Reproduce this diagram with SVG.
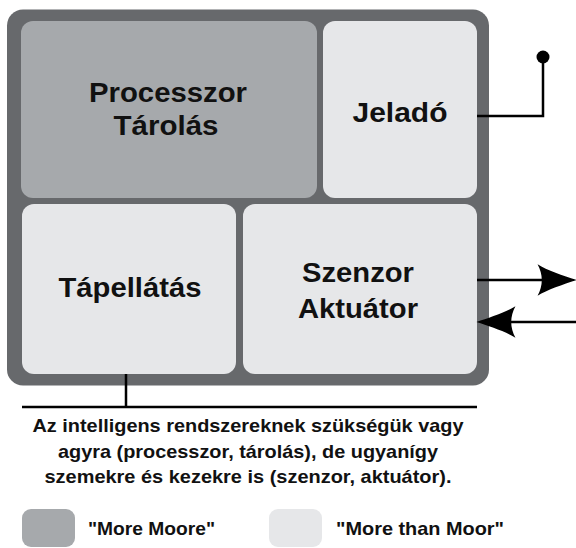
<svg xmlns="http://www.w3.org/2000/svg" width="576" height="548" viewBox="0 0 576 548">
  <style>
    .frame { fill: #67696c; }
    .dark { fill: #a6a9ac; }
    .light { fill: #e6e7e9; }
    .lbl { font-family: "Liberation Sans", Arial, sans-serif; font-weight: bold; font-size: 28.5px; fill: #111; text-anchor: middle; }
    .cap { font-family: "Liberation Sans", Arial, sans-serif; font-weight: bold; font-size: 18.5px; fill: #111; text-anchor: middle; }
    .leg { font-family: "Liberation Sans", Arial, sans-serif; font-weight: bold; font-size: 18.5px; fill: #111; }
    .wire { fill: none; stroke: #000; stroke-width: 2.5; }
  </style>
  <defs>
    <marker id="head" markerUnits="userSpaceOnUse" markerWidth="40" markerHeight="32" viewBox="0 0 38 30" refX="28" refY="15" orient="auto">
      <path d="M38,15 C26,11 10,6 1,0 Q9,15 1,30 C10,24 26,19 38,15 Z" fill="#000"/>
    </marker>
  </defs>
  <rect id="frame" class="frame" x="7" y="9.5" width="482" height="376" rx="16"/>
  <g id="processzor">
    <rect class="dark" x="21" y="21" width="296" height="177" rx="12"/>
    <text class="lbl" x="168" y="102" textLength="158" lengthAdjust="spacingAndGlyphs">Processzor</text>
    <text class="lbl" x="166" y="135" textLength="105" lengthAdjust="spacingAndGlyphs">Tárolás</text>
  </g>
  <g id="jelado">
    <rect class="light" x="323" y="21" width="154" height="177" rx="12"/>
    <text class="lbl" x="400" y="122" textLength="95" lengthAdjust="spacingAndGlyphs">Jeladó</text>
  </g>
  <g id="tapellatas">
    <rect class="light" x="22" y="204" width="214" height="170" rx="12"/>
    <text class="lbl" x="130" y="297" textLength="143" lengthAdjust="spacingAndGlyphs">Tápellátás</text>
  </g>
  <g id="szenzor">
    <rect class="light" x="243" y="204" width="234" height="170" rx="12"/>
    <text class="lbl" x="358" y="282" textLength="112" lengthAdjust="spacingAndGlyphs">Szenzor</text>
    <text class="lbl" x="358" y="318" textLength="120" lengthAdjust="spacingAndGlyphs">Aktuátor</text>
  </g>
  <g id="connectors">
    <path class="wire" d="M477,116 H543 V57"/>
    <circle cx="543" cy="57" r="6.5" fill="#000"/>
    <path class="wire" d="M477,280 H566" marker-end="url(#head)"/>
    <path class="wire" d="M576,322 H487" marker-end="url(#head)"/>
    <path class="wire" stroke-width="3" d="M126,374 V407 M22,407 H477"/>
  </g>
  <g id="caption">
    <text class="cap" x="248" y="432" textLength="431" lengthAdjust="spacingAndGlyphs">Az intelligens rendszereknek szükségük vagy</text>
    <text class="cap" x="248" y="457.5" textLength="380" lengthAdjust="spacingAndGlyphs">agyra (processzor, tárolás), de ugyanígy</text>
    <text class="cap" x="248" y="483" textLength="407" lengthAdjust="spacingAndGlyphs">szemekre és kezekre is (szenzor, aktuátor).</text>
  </g>
  <g id="legend-more-moore">
    <rect class="dark" x="22" y="509" width="53" height="38" rx="9"/>
    <text class="leg" x="88" y="535" textLength="127" lengthAdjust="spacingAndGlyphs">"More Moore"</text>
  </g>
  <g id="legend-more-than-moore">
    <rect class="light" x="269" y="509" width="53" height="38" rx="9"/>
    <text class="leg" x="336" y="535" textLength="168" lengthAdjust="spacingAndGlyphs">"More than Moor"</text>
  </g>
</svg>
